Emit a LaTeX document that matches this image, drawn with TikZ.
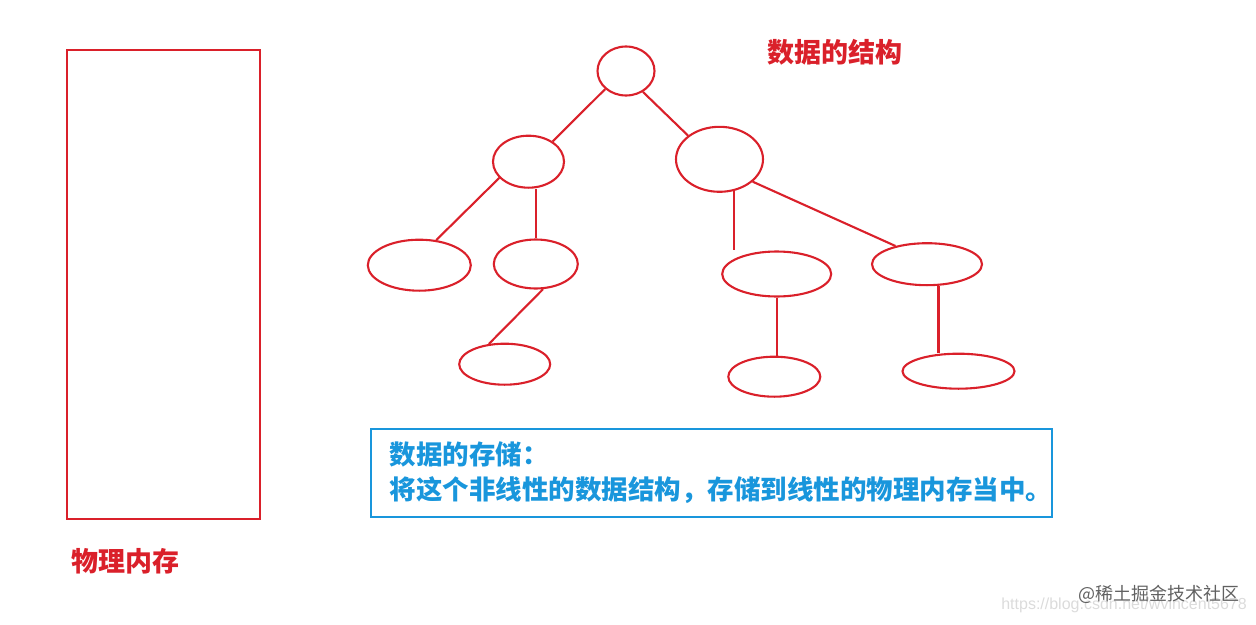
\documentclass[tikz,border=0pt]{standalone}
\usepackage{fontspec}
\newfontfamily\cjk{Noto Sans CJK SC}
\newfontfamily\lat{Liberation Sans}
\usetikzlibrary{shapes.geometric}
\definecolor{tred}{RGB}{218,32,42}
\definecolor{tblue}{RGB}{25,150,220}

\begin{document}
\begin{tikzpicture}[x=1pt,y=-1pt,
  oval/.style={draw=tred,line width=2.1pt,ellipse,inner sep=0pt},
  link/.style={draw=tred,line width=2.1pt},
  redlabel/.style={text=tred,font=\cjk\bfseries\fontsize{27}{32}\selectfont,inner sep=0pt,anchor=west}]

\useasboundingbox (0,0) rectangle (1256,624);

% physical memory
\node[draw=tred,line width=2.1pt,minimum width=193,minimum height=469,anchor=north west,inner sep=0pt] (mem) at (65.5,48.5) {};
\node[redlabel] (memtxt) at (71,561) {物理内存};

% data structure
\node[redlabel] (title) at (767,52.5) {数据的结构};

\node[oval,minimum width=57,minimum height=49] (root) at (626,71) {};
\node[oval,minimum width=71,minimum height=52] (L) at (528.5,161.7) {};
\node[oval,minimum width=87,minimum height=65] (R) at (719.5,159.3) {};
\node[oval,minimum width=103,minimum height=51] (LL) at (419.3,265.2) {};
\node[oval,minimum width=84,minimum height=49] (LR) at (535.8,264) {};
\node[oval,minimum width=91,minimum height=41] (LRc) at (504.7,364.2) {};
\node[oval,minimum width=109,minimum height=45] (RL) at (776.7,274) {};
\node[oval,minimum width=110,minimum height=42] (RR) at (927,264.2) {};
\node[oval,minimum width=92,minimum height=40] (RLc) at (774.3,376.7) {};
\node[oval,minimum width=112,minimum height=35] (RRc) at (958.5,371.2) {};

\draw[link] (root.221) -- (L.40);
\draw[link] (root.309) -- (R.143);
\draw[link] (L.209) -- (LL.56);
\draw[link] (L.south -| LR.north) -- (LR.north);
\draw[link] (LR.286) -- (LRc.128);
\draw[link] (R.295) -- (R.295 |- RL.north);
\draw[link] (R.326) -- (RR.150);
\draw[link] (RL.south) -- (RL.south |- RLc.north);
\draw[link] (RR.298) -- (RR.298 |- RRc.north);

% storage note
\node[draw=tblue,line width=2.1pt,anchor=north west,minimum width=681,minimum height=88,
  inner xsep=19pt,text width=643pt,align=left,text=tblue,
  font=\cjk\bfseries\fontsize{26.5}{35}\selectfont] (note) at (369.5,427.5)
  {数据的存储：\\将这个非线性的数据结构，存储到线性的物理内存当中。};

% watermark
\node[anchor=east,inner sep=0pt,text=black!14,font=\lat\fontsize{16}{18}\selectfont] (url) at (1247,605) {https://blog.csdn.net/wvincent5678};
\node[anchor=east,inner sep=0pt,text=black!62,font=\cjk\fontsize{18}{20}\selectfont] (mark) at (1240,594) {@稀土掘金技术社区};

\end{tikzpicture}
\end{document}
